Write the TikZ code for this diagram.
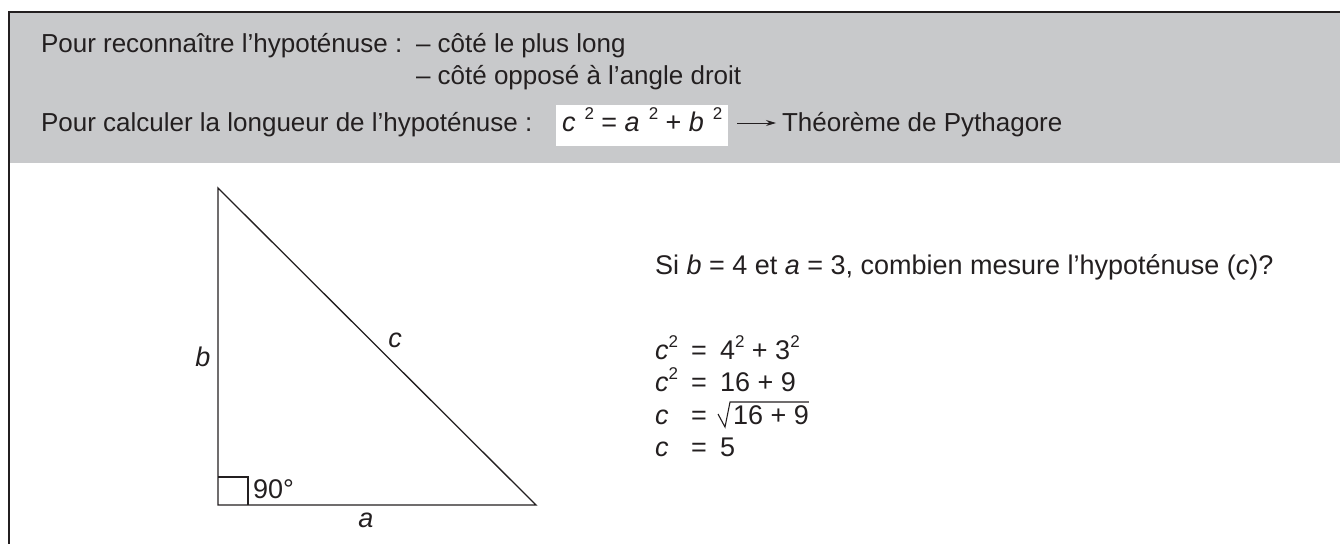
\documentclass[tikz,border=0pt]{standalone}
\usepackage{fontspec}
\setmainfont{Liberation Sans}
\usetikzlibrary{arrows.meta}
\definecolor{band}{HTML}{C8C9CB}
\definecolor{ink}{HTML}{231F20}
\newcommand\supr[1]{\raisebox{0.42em}{\fontsize{17}{17}\selectfont #1}}
\tikzset{
  txt/.style={anchor=base west, inner sep=0pt, outer sep=0pt, text=ink, font=\fontsize{26}{30}\selectfont},
  txtb/.style={txt, font=\fontsize{27}{30}\selectfont},
  lbl/.style={inner sep=0pt, outer sep=0pt, text=ink, font=\fontsize{27}{30}\selectfont\itshape},
  edge/.style={draw=ink, line width=1.3pt},
  frame/.style={draw=ink, line width=2pt}
}
\begin{document}
\begin{tikzpicture}[x=1pt,y=-1pt]
\useasboundingbox (0,0) rectangle (1340,544);
% band and frame
\fill[band] (9,12) rectangle (1340,163);
\draw[frame] (1340,12) -- (8.5,12) -- (8.5,544);
% header text
\node[txt] (l1) at (41,52) {Pour reconnaître l’hypoténuse :};
\node[txt] (d1) at (416,52) {– côté le plus long};
\node[txt] (d2) at (416,84) {– côté opposé à l’angle droit};
\node[txt] (l3) at (41,131) {Pour calculer la longueur de l’hypoténuse :};
\fill[white] (556,105) rectangle (728,146);
\node[txtb] (form) at (562,131) {\textit{c}\,\,\supr{2} = \textit{a}\,\,\supr{2} + \textit{b}\,\,\supr{2}};
\node[txt] (thm) at (782,131) {Théorème de Pythagore};
\coordinate (arrs) at (737,123);
\coordinate (arre) at (776,123);
\draw[ink, line width=1pt, -{Stealth[length=10pt,width=6pt]}] (arrs) -- (arre);
% triangle
\coordinate (A) at (218,188);
\coordinate (C) at (218,505);
\coordinate (B) at (536,505);
\draw[edge, line join=miter] (A) -- (C) -- (B) -- cycle;
\draw[edge] (218,477) -| (248,505);
\node[lbl] (lb) at (203,357) {b};
\node[lbl] (lc) at (395,340) {c};
\node[lbl] (la) at (366,520) {a};
\node[txtb] (l90) at (253,498) {90°};
% question
\node[txtb] (q) at (655,274) {Si \textit{b} = 4 et \textit{a} = 3, combien mesure l’hypoténuse (\textit{c})?};
% equations
\node[txtb] (e1l) at (655,359) {\textit{c}\supr{2}};
\node[txtb] (e1m) at (691,359) {=};
\node[txtb] (e1r) at (720,359) {4\supr{2} + 3\supr{2}};
\node[txtb] (e2l) at (655,391) {\textit{c}\supr{2}};
\node[txtb] (e2m) at (691,391) {=};
\node[txtb] (e2r) at (720,391) {16 + 9};
\node[txtb] (e3l) at (655,424) {\textit{c}};
\node[txtb] (e3m) at (691,424) {=};
\node[txtb] (e3r) at (733,424) {16 + 9};
\draw[ink, line width=1.1pt] (718,414) -- (725,427) -- (730,402) -- (e3r.north east |- 0,402);
\node[txtb] (e4l) at (655,456) {\textit{c}};
\node[txtb] (e4m) at (691,456) {=};
\node[txtb] (e4r) at (720,456) {5};
\end{tikzpicture}
\end{document}
